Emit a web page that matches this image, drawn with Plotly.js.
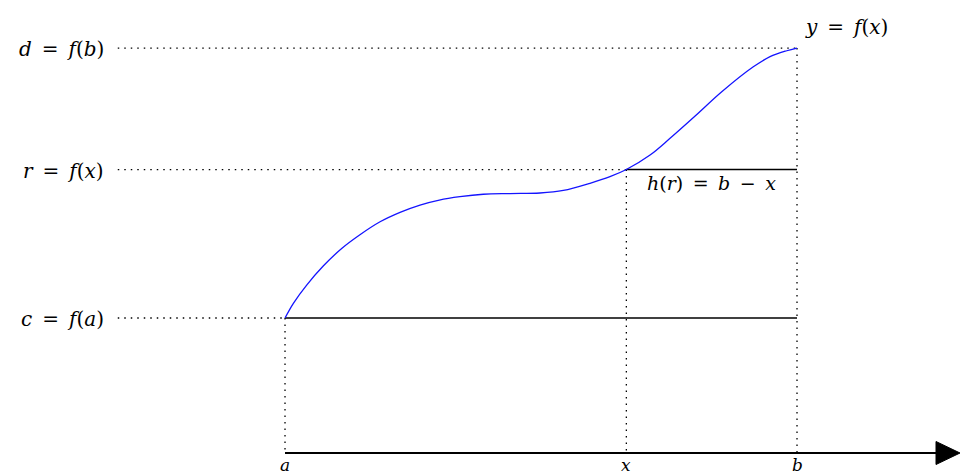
<!DOCTYPE html>
<html>
<head>
<meta charset="utf-8">
<script src="https://cdn.plot.ly/plotly-3.0.1.min.js"></script>
<style>html,body{margin:0;padding:0;background:#fff;}#chart{width:960px;height:475px;}</style>
</head>
<body>
<div id="chart"></div>
<script>
// Named positions on the x axis (a, x, b)
const xNames = ['a', 'x', 'b'];
const xValues = [0, 2, 3];
// Named levels on the y axis (c = f(a), r = f(x), d = f(b))
const yNames = ['c = f(a)', 'r = f(x)', 'd = f(b)'];
const yValues = [1, 2.1, 3];
// Curve y = f(x)
const curveX = [0, 0.049, 0.127, 0.224, 0.332, 0.439, 0.557, 0.674, 0.791, 0.904, 1.025, 1.162, 1.318, 1.494, 1.631, 1.787, 1.904, 2.0, 2.139, 2.256, 2.403, 2.559, 2.744, 2.842, 2.940, 3.0];
const curveY = [1.0, 1.109, 1.244, 1.385, 1.515, 1.617, 1.713, 1.783, 1.837, 1.874, 1.899, 1.917, 1.922, 1.926, 1.945, 1.998, 2.047, 2.1, 2.207, 2.331, 2.496, 2.676, 2.861, 2.936, 2.980, 3.0];
// Where the dotted guide lines from the left labels begin, and the end of the arrow axis
const guideStart = -0.98;
const axisEnd = 3.955;

const A = xValues[0], X = xValues[1], B = xValues[2];
const C = yValues[0], R = yValues[1], D = yValues[2];

const dotted = {color: '#000', width: 1.3, dash: '1.5px,5px'};
const solid = {color: '#000', width: 1.6};

function seg(x0, y0, x1, y1, line) {
  return {x: [x0, x1], y: [y0, y1], mode: 'lines', line: line, hoverinfo: 'skip', showlegend: false, type: 'scatter'};
}

const traces = [
  seg(guideStart, D, B, D, dotted),
  seg(guideStart, R, X, R, dotted),
  seg(guideStart, C, A, C, dotted),
  seg(A, C, A, 0, dotted),
  seg(X, R, X, 0, dotted),
  seg(B, D, B, 0, dotted),
  seg(A, C, B, C, solid),
  seg(X, R, B, R, solid),
  seg(A, 0, axisEnd - 0.03, 0, {color: '#000', width: 2}),
  {x: curveX, y: curveY, mode: 'lines', line: {color: 'rgb(20,20,255)', width: 1.3, shape: 'spline', smoothing: 1.0}, hoverinfo: 'skip', showlegend: false, type: 'scatter'}
];

const font = {family: 'DejaVu Serif, serif', size: 20, color: '#000'};
function mathLabel(s) {
  return s.replace(/([a-z])/g, '<i>$1</i>').replace(/ = /g, '\u2002=\u2002').replace(/ - /g, '\u2002\u2212\u2002');
}

const annotations = [];
yNames.forEach((n, i) => {
  annotations.push({x: guideStart, y: yValues[i], xref: 'x', yref: 'y', text: mathLabel(n), showarrow: false, xanchor: 'right', yanchor: 'middle', xshift: -12, yshift: -1, font: font});
});
xNames.forEach((n, i) => {
  annotations.push({x: xValues[i], y: 0, xref: 'x', yref: 'y', text: mathLabel(n), showarrow: false, xanchor: 'center', yanchor: 'top', yshift: 0, font: {family: font.family, size: 17, color: '#000'}});
});
annotations.push({x: B, y: D, xref: 'x', yref: 'y', text: mathLabel('y = f(x)'), showarrow: false, xanchor: 'left', yanchor: 'bottom', xshift: 6, yshift: 7, font: font});
annotations.push({x: (X + B) / 2, y: R, xref: 'x', yref: 'y', text: mathLabel('h(r) = b - x'), showarrow: false, xanchor: 'center', yanchor: 'top', xshift: 0, yshift: 0, font: {family: font.family, size: 19, color: '#000'}});

const layout = {
  width: 960, height: 475,
  margin: {l: 0, r: 0, t: 0, b: 0},
  paper_bgcolor: '#fff', plot_bgcolor: '#fff',
  xaxis: {range: [-1.670, 3.955], visible: false, fixedrange: true},
  yaxis: {range: [-0.163, 3.356], visible: false, fixedrange: true},
  showlegend: false,
  annotations: annotations,
  shapes: [{
    type: 'path', xref: 'x', yref: 'y', xsizemode: 'pixel', ysizemode: 'pixel',
    xanchor: axisEnd, yanchor: 0,
    path: 'M -24,11.5 L 0,0 L -24,-11.5 Z',
    fillcolor: '#000', line: {color: '#000', width: 1}
  }]
};

Plotly.newPlot('chart', traces, layout, {staticPlot: true, displayModeBar: false});
</script>
</body>
</html>
